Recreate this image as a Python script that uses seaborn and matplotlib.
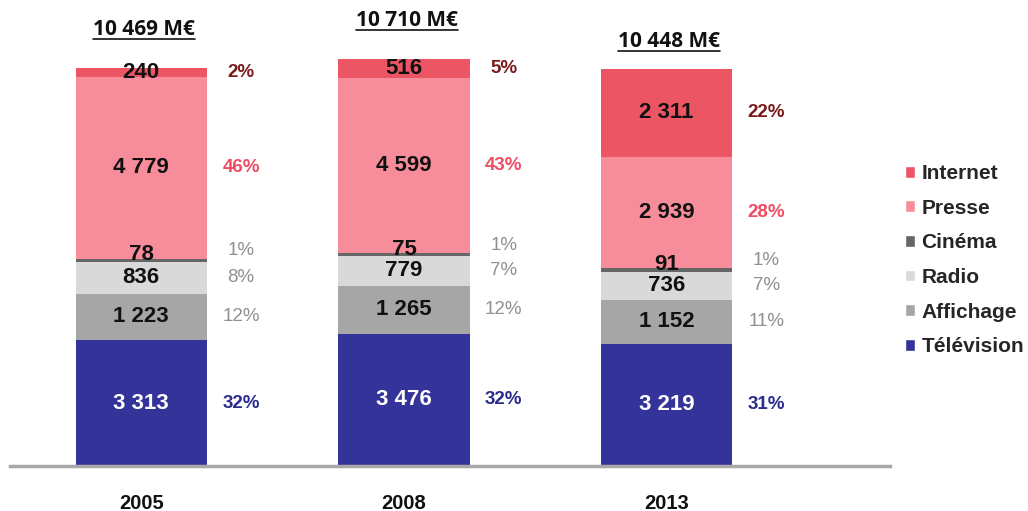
import matplotlib
matplotlib.use("Agg")
import matplotlib.pyplot as plt
from matplotlib.patches import Patch
from matplotlib.lines import Line2D
import numpy as np
import pandas as pd
import seaborn as sns

# data (M€)
years = ["2005", "2008", "2013"]
media = ["Télévision", "Affichage", "Radio", "Cinéma", "Presse", "Internet"]
television = [3313, 3476, 3219]
affichage = [1223, 1265, 1152]
radio = [836, 779, 736]
cinema = [78, 75, 91]
presse = [4779, 4599, 2939]
internet = [240, 516, 2311]
totals_txt = ["10 469 M€", "10 710 M€", "10 448 M€"]
pct_television = ["32%", "32%", "31%"]
pct_affichage = ["12%", "12%", "11%"]
pct_radio = ["8%", "7%", "7%"]
pct_cinema = ["1%", "1%", "1%"]
pct_presse = ["46%", "43%", "28%"]
pct_internet = ["2%", "5%", "22%"]

values = [television, affichage, radio, cinema, presse, internet]
pcts = [pct_television, pct_affichage, pct_radio, pct_cinema, pct_presse, pct_internet]
colors = ["#333399", "#A6A6A6", "#D9D9D9", "#666666", "#F78D9B", "#EC5564"]
pct_colors = ["#2B2B8F", "#909090", "#909090", "#909090", "#EE4D63", "#7B1A1A"]
pct_bold = [True, False, False, False, True, True]
val_colors = ["white", "#111111", "#111111", "#111111", "#111111", "#111111"]

sns.set_style("white")
plt.rcParams["font.family"] = ["Liberation Sans", "DejaVu Sans"]

df = pd.DataFrame(values, index=media, columns=years).T
cum = df.cumsum(axis=1)

fig = plt.figure(figsize=(10.28, 5.11), dpi=100)
ax = fig.add_axes([0.0097, 0.088, 0.856, 0.912])

# stacked bars: draw cumulative sums from top segment down
for i in range(len(media) - 1, -1, -1):
    d = pd.DataFrame({"year": years, "val": cum[media[i]].values})
    sns.barplot(data=d, x="year", y="val", color=colors[i], width=0.5,
                errorbar=None, linewidth=0, saturation=1, ax=ax)

# labels inside / beside segments
for j in range(len(years)):
    for i, m in enumerate(media):
        top = cum[m].iloc[j]
        mid = top - df[m].iloc[j] / 2
        shift_v = 150 if m == "Cinéma" else 0
        shift_p = 250 if m == "Cinéma" else 0
        ax.text(j, mid + shift_v, f"{df[m].iloc[j]:,}".replace(",", " "),
                ha="center", va="center", fontsize=16, fontweight="bold",
                color=val_colors[i])
        ax.text(j + 0.38, mid + shift_p, pcts[i][j], ha="center", va="center",
                fontsize=13.5, fontweight="bold" if pct_bold[i] else "normal",
                color=pct_colors[i])

# totals, underlined
tot_offset = [1000, 1000, 720]
tot_texts = []
for j in range(len(years)):
    t = ax.text(j + 0.01, cum["Internet"].iloc[j] + tot_offset[j], totals_txt[j],
                ha="center", va="center", fontsize=15, fontweight="bold",
                family=["Open Sans", "DejaVu Sans"], color="#111111")
    tot_texts.append(t)

ax.set_xlim(-0.5, 2.85)
ax.set_ylim(0, 12257)
ax.set_xlabel("")
ax.set_ylabel("")
ax.set_yticks([])
for s in ["top", "right", "left"]:
    ax.spines[s].set_visible(False)
ax.spines["bottom"].set_color("#A8A8A8")
ax.spines["bottom"].set_linewidth(2.5)
ax.tick_params(axis="x", length=0, pad=20)
for lab in ax.get_xticklabels():
    lab.set_fontweight("bold")
    lab.set_fontsize(14.5)
    lab.set_color("#111111")

handles = [Patch(facecolor=colors[i], label=media[i]) for i in range(len(media) - 1, -1, -1)]
fig.legend(handles=handles, loc="center left", bbox_to_anchor=(0.862, 0.491),
           frameon=False, handlelength=0.5, handleheight=0.5,
           handletextpad=0.3, labelspacing=0.75,
           prop={"weight": "bold", "size": 15})

# underline the totals
fig.canvas.draw()
r = fig.canvas.get_renderer()
for t in tot_texts:
    bb = t.get_window_extent(renderer=r)
    x0, x1 = bb.x0 / fig.bbox.width, bb.x1 / fig.bbox.width
    y = (bb.y0 + 1) / fig.bbox.height
    fig.add_artist(Line2D([x0, x1], [y, y], color="#111111", linewidth=1.2))

fig.savefig("out.png", dpi=100)
